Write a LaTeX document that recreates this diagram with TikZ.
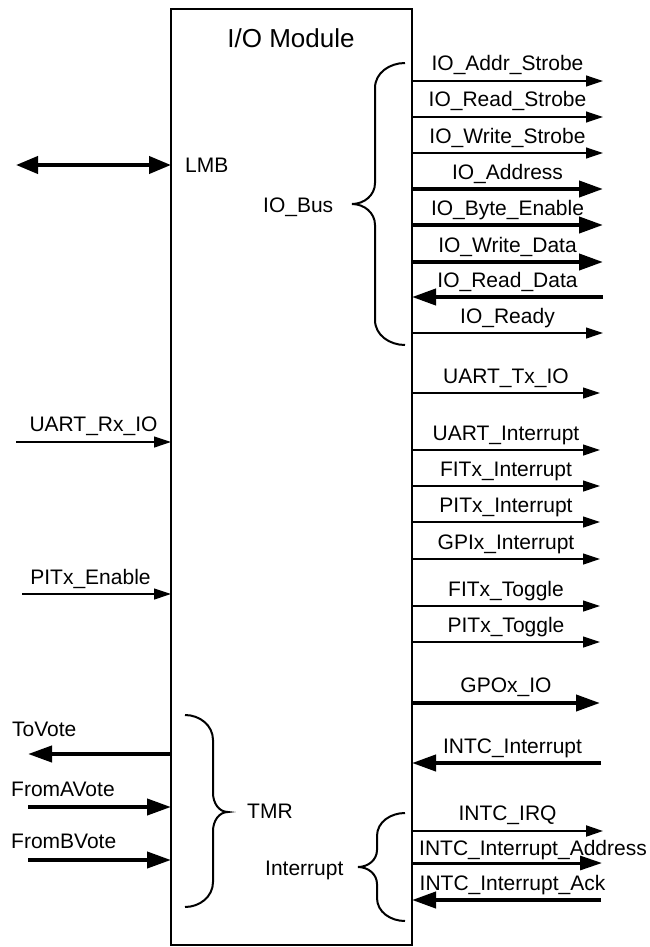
\documentclass[tikz,border=0pt]{standalone}
\usepackage{fontspec}
\setmainfont{Liberation Sans}
\usetikzlibrary{arrows.meta}
\tikzset{
	sig/.style={line width=1.2pt,-{Triangle[length=17pt,width=11pt]}},
	bus/.style={line width=4pt,-{Triangle[length=24pt,width=16pt]}},
	lbl/.style={anchor=base,inner sep=0pt,font=\fontsize{21}{25}\selectfont},
	brc/.style={line width=2pt},
}
\begin{document}
\begin{tikzpicture}[x=1pt,y=1pt]
		\useasboundingbox(0,0)rectangle(649,-947);
		\node[draw,line width=2pt,inner sep=0pt,outer sep=0pt,minimum width=241pt,minimum height=936pt,anchor=north west](mod)at(171,-9){};
		\node[lbl,font=\fontsize{26}{30}\selectfont](title)at(291,-48){I/O Module};
		% left side
		\coordinate(lmb)at(16,-165);
		\draw[line width=4pt,{Triangle[length=22pt,width=17pt]}-{Triangle[length=22pt,width=17pt]}](lmb)--(mod.west|-lmb);
		\node[lbl,anchor=base west](lmbl)at(185,-172){LMB};
		\coordinate(rx)at(16,-442);
		\draw[sig](rx)--(mod.west|-rx)node[lbl,midway,yshift=11pt](rxl){UART\_Rx\_IO};
		\coordinate(pe)at(22,-594);
		\draw[sig](pe)--(mod.west|-pe)node[lbl,midway,xshift=-6pt,yshift=10pt](pel){PITx\_Enable};
		\coordinate(tv)at(28,-754);
		\draw[bus](mod.west|-tv)--(tv);
		\node[lbl,anchor=base west](tvl)at(12,-736){ToVote};
		\foreach \y/\b/\t in {807/796/FromAVote,860/848/FromBVote} {
			\coordinate(f\y)at(28,-\y);
			\draw[bus](f\y)--(mod.west|-f\y);
			\node[lbl,anchor=base west](fl\y)at(11,-\b){\t};
		}
		% braces
		\draw[brc](405,-63)to[out=180,in=90](375,-88)--(375,-183)to[out=-90,in=0](352,-204)to[out=0,in=90](375,-225)--(375,-320)to[out=-90,in=180](405,-345);
		\node[lbl,anchor=base west](bus)at(263,-212){IO\_Bus};
		\draw[brc](185,-715)to[out=0,in=90](213,-740)--(213,-793)to[out=-90,in=180](228,-812)to[out=180,in=90](213,-831)--(213,-882)to[out=-90,in=0](185,-907);
		\node[lbl,anchor=base west](tmr)at(247,-818){TMR};
		\draw[brc](405,-813)to[out=180,in=90](377,-836)--(377,-850)to[out=-90,in=0](358,-867)to[out=0,in=90](377,-884)--(377,-898)to[out=-90,in=180](405,-921);
		\node[lbl,anchor=base west](irq)at(265,-875){Interrupt};
		% right side
		\foreach \y/\t in {81/IO\_Addr\_Strobe,117/IO\_Read\_Strobe,153/IO\_Write\_Strobe,333/IO\_Ready} {
			\coordinate(o\y)at(603,-\y);
			\draw[sig](mod.east|-o\y)--(o\y)node[lbl,midway,yshift=10pt](l\y){\t};
		}
		\foreach \y/\t in {189/IO\_Address,225/IO\_Byte\_Enable,262/IO\_Write\_Data} {
			\coordinate(o\y)at(603,-\y);
			\draw[bus](mod.east|-o\y)--(o\y)node[lbl,midway,yshift=10pt](l\y){\t};
		}
		\coordinate(o297)at(603,-297);
		\draw[bus](o297)--(mod.east|-o297)node[lbl,midway,yshift=10pt](l297){IO\_Read\_Data};
		\foreach \y/\t in {393/UART\_Tx\_IO,450/UART\_Interrupt,486/FITx\_Interrupt,522/PITx\_Interrupt,559/GPIx\_Interrupt,606/FITx\_Toggle,642/PITx\_Toggle} {
			\coordinate(o\y)at(600,-\y);
			\draw[sig](mod.east|-o\y)--(o\y)node[lbl,midway,yshift=10pt](l\y){\t};
		}
		\coordinate(o703)at(600,-703);
		\draw[bus](mod.east|-o703)--(o703)node[lbl,midway,yshift=11pt](l703){GPOx\_IO};
		\coordinate(o763)at(601,-763);
		\draw[bus](o763)--(mod.east|-o763)node[lbl,midway,xshift=6pt,yshift=10pt](l763){INTC\_Interrupt};
		\coordinate(o831)at(603,-831);
		\draw[sig,line width=2pt](mod.east|-o831)--(o831)node[lbl,midway,yshift=11pt](l831){INTC\_IRQ};
		\coordinate(o863)at(602,-863);
		\draw[line width=3pt,-{Triangle[length=22pt,width=14pt]}](mod.east|-o863)--(o863)node[lbl,midway,xshift=26pt,yshift=8pt](l863){INTC\_Interrupt\_Address};
		\coordinate(o900)at(601,-900);
		\draw[bus](o900)--(mod.east|-o900)node[lbl,midway,xshift=6pt,yshift=10pt](l900){INTC\_Interrupt\_Ack};
	\end{tikzpicture}
\end{document}
